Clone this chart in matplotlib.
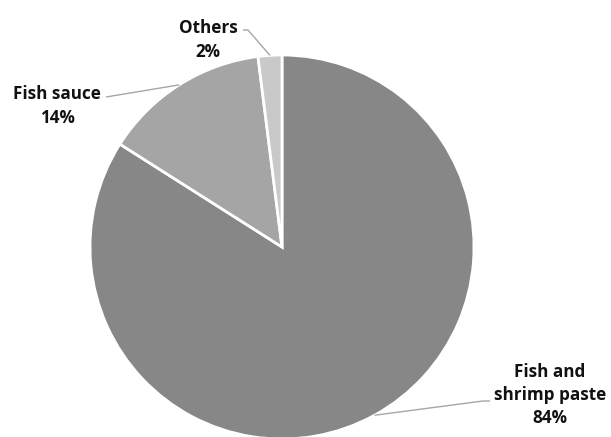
import numpy as np
import matplotlib
matplotlib.use("Agg")
import matplotlib.pyplot as plt

# Share of products (percent), drawn clockwise from 12 o'clock
categories = ["Fish and\nshrimp paste", "Fish sauce", "Others"]
shares = [84, 14, 2]
colors = ["#878787", "#a5a5a5", "#c9c9c9"]

W, H = 611, 437
fig = plt.figure(figsize=(W / 100, H / 100), dpi=100)
ax = fig.add_axes([0, 0, 1, 1])

cx, cy, r = 282, H - 247, 192
wedges, _ = ax.pie(shares, colors=colors, startangle=90, counterclock=False,
                   center=(cx, cy), radius=r, frame=True,
                   wedgeprops=dict(edgecolor="white", linewidth=2))
ax.set_xlim(0, W)
ax.set_ylim(0, H)
ax.axis("off")

font = dict(family="Open Sans", weight="bold", fontsize=12.3, color="#111111",
            ha="center", va="center", linespacing=1.38)

# label anchor (x, y from top) and leader path elbow for each slice
label_pos = [(550, 395), (57, 106), (208, 40)]
elbows = [[(490, 401), (483, 401)], [(106, 97)], [(243, 30), (248, 30)]]

for w, cat, val, (lx, ly), elb in zip(wedges, categories, shares, label_pos, elbows):
    mid = np.deg2rad((w.theta1 + w.theta2) / 2)
    ex, ey = cx + r * np.cos(mid), cy + r * np.sin(mid)
    pts = [(x, H - y) for x, y in elb] + [(ex, ey)]
    xs, ys = zip(*pts)
    ax.plot(xs, ys, color="#a6a6a6", lw=1, solid_capstyle="butt")
    ax.text(lx, H - ly, f"{cat}\n{val}%", **font)

fig.savefig("out.png", dpi=100)
